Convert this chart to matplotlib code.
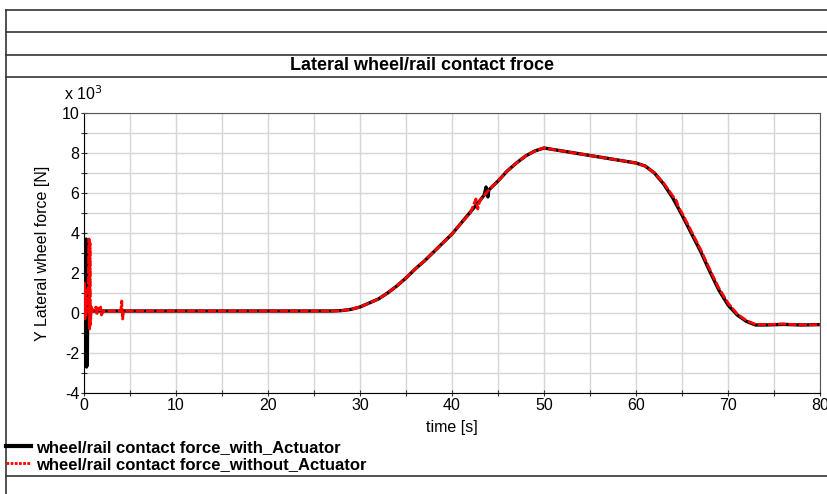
import matplotlib
matplotlib.use("Agg")
import matplotlib.pyplot as plt
from matplotlib.lines import Line2D

# time [s] and lateral force [x 10^3 N]
t_with = [0.0, 0.2, 0.24, 0.28, 0.32, 0.36, 0.40, 0.5, 1.0, 3.0, 5.0, 10.0, 15.0, 20.0,
          25.0, 27.0, 28.0, 29.0, 30.0, 31.0, 32.0, 33.0, 34.0, 35.0, 36.0, 37.0, 38.0,
          39.0, 40.0, 41.0, 42.0, 43.0, 43.5, 43.7, 43.9, 44.0, 45.0, 46.0, 47.0, 48.0,
          49.0, 50.0, 52.0, 54.0, 56.0, 58.0, 60.0, 61.0, 62.0, 63.0, 64.0, 65.0, 66.0,
          67.0, 68.0, 69.0, 70.0, 71.0, 72.0, 73.0, 74.0, 76.0, 78.0, 80.0]
f_with = [0.1, 0.1, 3.7, -2.7, 3.6, -2.6, 0.5, 0.1, 0.1, 0.1, 0.1, 0.1, 0.1, 0.1,
          0.1, 0.1, 0.12, 0.18, 0.3, 0.5, 0.7, 1.0, 1.35, 1.75, 2.2, 2.6, 3.05,
          3.5, 3.95, 4.5, 5.05, 5.6, 5.9, 6.3, 5.8, 6.15, 6.6, 7.1, 7.5, 7.85,
          8.1, 8.25, 8.1, 7.95, 7.8, 7.65, 7.5, 7.35, 7.0, 6.45, 5.75, 4.9, 4.0,
          3.1, 2.1, 1.15, 0.4, -0.1, -0.42, -0.6, -0.6, -0.57, -0.6, -0.58]

t_without = [0.0, 0.05, 0.1, 0.15, 0.2, 0.3, 0.45, 0.55, 0.6, 0.65, 0.7, 0.8, 1.0,
             1.3, 1.4, 1.5, 1.7, 1.8, 1.9, 2.1, 3.0, 4.0, 4.1, 4.2, 4.3, 5.0, 10.0,
             15.0, 20.0, 25.0, 27.0, 28.0, 29.0, 30.0, 31.0, 32.0, 33.0, 34.0, 35.0,
             36.0, 37.0, 38.0, 39.0, 40.0, 41.0, 42.0, 42.6, 42.8, 43.0, 44.0, 45.0,
             46.0, 47.0, 48.0, 49.0, 50.0, 52.0, 54.0, 56.0, 58.0, 60.0, 61.0, 62.0,
             63.0, 64.0, 64.4, 64.6, 65.0, 66.0, 67.0, 68.0, 69.0, 70.0, 71.0, 72.0,
             73.0, 74.0, 76.0, 78.0, 80.0]
f_without = [0.1, 1.5, -0.3, 1.2, -0.2, 0.6, 0.1, 3.7, -0.8, 3.5, -0.6, 0.3, 0.1,
             0.3, -0.1, 0.25, 0.1, 0.3, -0.1, 0.1, 0.1, 0.1, 0.6, -0.3, 0.1, 0.1, 0.1,
             0.1, 0.1, 0.1, 0.1, 0.12, 0.18, 0.3, 0.5, 0.7, 1.0, 1.35, 1.75,
             2.2, 2.6, 3.05, 3.5, 3.95, 4.5, 5.0, 5.7, 5.2, 5.6, 6.15, 6.6,
             7.1, 7.5, 7.85, 8.1, 8.25, 8.1, 7.95, 7.8, 7.65, 7.5, 7.35, 7.0,
             6.5, 5.85, 5.6, 5.3, 5.0, 4.1, 3.2, 2.2, 1.25, 0.5, -0.05, -0.38,
             -0.57, -0.58, -0.55, -0.6, -0.58]

title = "Lateral wheel/rail contact froce"
labels = ["wheel/rail contact force_with_Actuator",
          "wheel/rail contact force_without_Actuator"]

W, H = 828, 494
plt.rcParams["font.family"] = ["Liberation Sans", "DejaVu Sans"]
plt.rcParams["axes.unicode_minus"] = False

fig = plt.figure(figsize=(W / 100, H / 100), dpi=100)
ax = fig.add_axes([84 / W, 1 - 393 / H, (820 - 84) / W, (393 - 113) / H])

ax.plot(t_with, f_with, color="black", lw=2.4, zorder=3)
ax.plot(t_without, f_without, color="red", lw=2.0, ls=(0, (3, 0.7)), zorder=4)

ax.set_xlim(0, 80)
ax.set_ylim(-4, 10)
ax.set_xticks(range(0, 81, 10))
ax.set_xticks(range(5, 80, 10), minor=True)
ax.set_yticks(range(-4, 11, 2))
ax.set_yticks(range(-3, 10, 2), minor=True)
ax.grid(True, which="both", color="#d6d6d6", lw=1.0)
ax.set_axisbelow(True)
ax.tick_params(which="both", direction="inout", length=5, width=0.8,
               labelsize=11.5, colors="#333333", labelcolor="black", pad=1)
for side in ["top", "right"]:
    ax.spines[side].set_color("#555555")
ax.set_xlabel("time [s]", fontsize=11.5, labelpad=5)
ax.set_ylabel("Y Lateral wheel force [N]", fontsize=11.5, labelpad=8)
fig.text(64 / W, 1 - 94 / H, r"x 10$^3$", fontsize=11.5, va="center")

# report frame lines
for y in [10, 32, 55, 77, 476]:
    fig.add_artist(Line2D([6 / W, 1], [1 - y / H, 1 - y / H], color="#333333", lw=1.2))
fig.add_artist(Line2D([6 / W, 6 / W], [1 - 10 / H, 0], color="#333333", lw=1.2))
fig.text(422 / W, 1 - 66 / H, title, fontsize=13, fontweight="bold",
         ha="center", va="center")

handles = [Line2D([], [], color="black", lw=3),
           Line2D([], [], color="red", lw=2, ls=(0, (1, 0.5)))]
fig.legend(handles, labels, loc="upper left", bbox_to_anchor=(6 / W, 1 - 440 / H),
           frameon=False, handlelength=1.5, handletextpad=0.3, labelspacing=0.1,
           borderpad=0, borderaxespad=0,
           prop={"weight": "bold", "size": 12})

fig.savefig("out.png", dpi=100)
